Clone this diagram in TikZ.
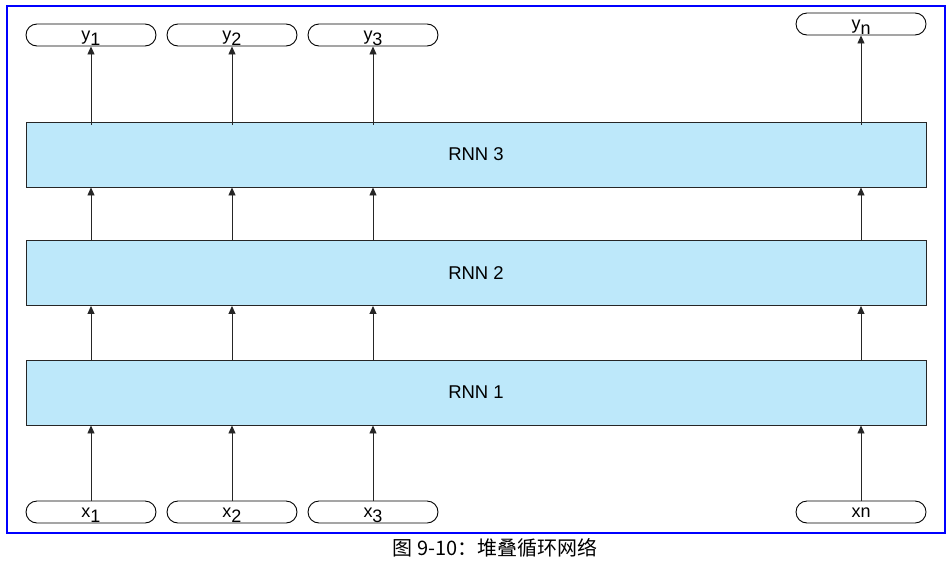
\documentclass[tikz,border=0pt]{standalone}
\usepackage{fontspec}
\setmainfont{Liberation Sans}
\newfontfamily\cjk{Noto Sans CJK SC}
\usetikzlibrary{arrows.meta}
\definecolor{rnnfill}{RGB}{189,232,250}
\definecolor{framebl}{RGB}{0,0,255}
\tikzset{
  pill/.style={draw=black, line width=0.9pt, rounded corners=11pt, minimum width=130pt, minimum height=22pt, inner sep=0pt, text height=10pt, text depth=0pt, font=\fontsize{18}{18}\selectfont},
  rnnbox/.style={draw=black!85, fill=rnnfill, line width=0.9pt, minimum width=900pt, minimum height=65pt, inner sep=0pt, font=\fontsize{18.5}{18}\selectfont},
  conn/.style={draw=black!85, line width=0.9pt, -{Triangle[length=8pt,width=7pt]}},
}
\newcommand{\sub}[2]{#1\raisebox{-0.6ex}{#2}}
\begin{document}
\begin{tikzpicture}[x=1pt,y=-1pt]
\useasboundingbox (0,0) rectangle (952,560);
\draw[framebl, line width=2pt] (7,6) rectangle (945,533);
% boxes
\node[rnnbox] (r3) at (476,154.5) {RNN 3};
\node[rnnbox] (r2) at (476,273) {RNN 2};
\node[rnnbox] (r1) at (476,392.5) {RNN 1};
% output pills
\node[pill] (y1) at (91,35) {\sub{y}{1}};
\node[pill] (y2) at (232,35) {\sub{y}{2}};
\node[pill] (y3) at (373,35) {\sub{y}{3}};
\node[pill] (yn) at (861,24) {\sub{y}{n}};
% input pills
\node[pill] (x1) at (91,512) {\sub{x}{1}};
\node[pill] (x2) at (232,512) {\sub{x}{2}};
\node[pill] (x3) at (373,512) {\sub{x}{3}};
\node[pill] (xn) at (861,512) {xn};
% connectors
\foreach \c/\i in {1/1,2/2,3/3,n/n}{
  \draw[conn] (x\c.north) -- (r1.south -| x\c.north);
  \draw[conn] (r1.north -| x\c.north) -- (r2.south -| x\c.north);
  \draw[conn] (r2.north -| x\c.north) -- (r3.south -| x\c.north);
  \draw[conn] ([yshift=-3pt]r3.north -| y\i.south) -- (y\i.south);
}
\node[font=\cjk\fontsize{20}{20}\selectfont] (cap) at (495,548) {图 9-10：堆叠循环网络};
\end{tikzpicture}
\end{document}
